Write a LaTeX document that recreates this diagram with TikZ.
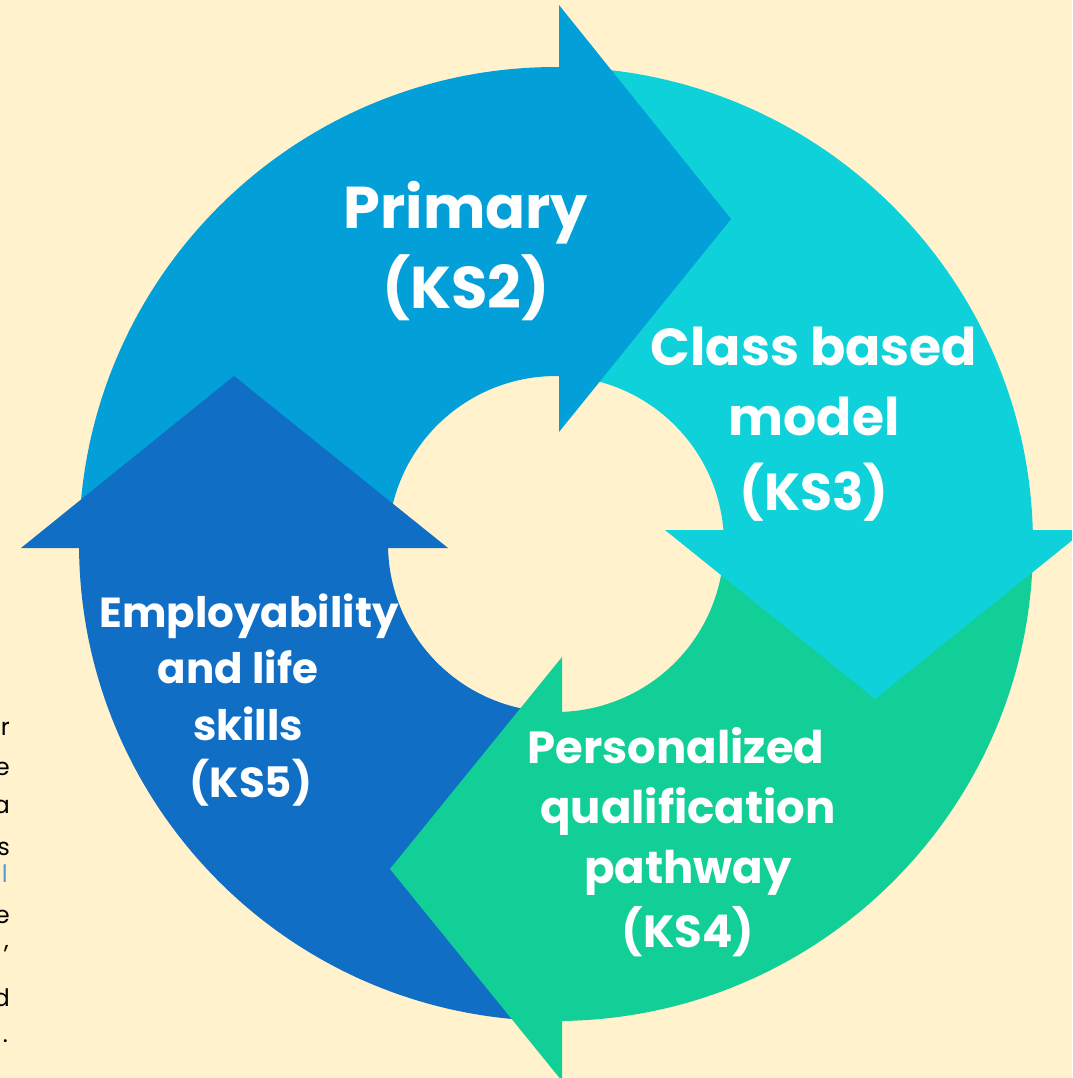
\documentclass[tikz,border=0pt]{standalone}
\usepackage{fontspec}
\setmainfont{Poppins}
\usetikzlibrary{calc}
\definecolor{bgcream}{RGB}{255,242,204}
\definecolor{cprim}{RGB}{3,159,216}
\definecolor{ckthree}{RGB}{14,209,218}
\definecolor{ckfour}{RGB}{18,207,152}
\definecolor{ckfive}{RGB}{16,111,196}
\definecolor{linkblue}{RGB}{91,155,213}
\begin{document}
\begin{tikzpicture}[x=1pt,y=-1pt,
  lblA/.style={text=white,inner sep=0pt,anchor=base,font=\fontsize{59}{66}\selectfont\bfseries},
  lblB/.style={text=white,inner sep=0pt,anchor=base,font=\fontsize{52}{60}\selectfont\bfseries},
  lblC/.style={text=white,inner sep=0pt,anchor=base,font=\fontsize{45}{52}\selectfont\bfseries},
  lblD/.style={text=white,inner sep=0pt,anchor=base,font=\fontsize{42}{50}\selectfont\bfseries},
  edgetxt/.style={text=black,inner sep=0pt,anchor=base east,font=\fontsize{24}{28}\selectfont}]
\useasboundingbox (0,0) rectangle (1072,1078);
\clip (0,0) rectangle (1072,1078);
\fill[bgcream] (0,0) rectangle (1072,1078);
\coordinate (C) at (556,544);
% ring segments
\fill[cprim] ($(C)+(181.52:477)$) arc[start angle=181.52,end angle=271.36,radius=477]
  -- ($(C)+(272.02:168)$) arc[start angle=272.02,end angle=180.64,radius=168] -- cycle;
\fill[ckthree] ($(C)+(272.36:477)$) arc[start angle=272.36,end angle=359.32,radius=477]
  -- ($(C)+(356.22:168)$) arc[start angle=356.22,end angle=273.02,radius=168] -- cycle;
\fill[ckfour] ($(C)+(0.32:477)$) arc[start angle=0.32,end angle=90.28,radius=477]
  -- ($(C)+(88.95:168)$) arc[start angle=88.95,end angle=-2.78,radius=168] -- cycle;
\fill[ckfive] ($(C)+(91.28:477)$) arc[start angle=91.28,end angle=180.52,radius=477]
  -- ($(C)+(179.64:168)$) arc[start angle=179.64,end angle=89.95,radius=168] -- cycle;
% arrowheads
\fill[cprim] (559,5) -- (731,219) -- (559,432) -- cycle;
\fill[ckthree] (665,530) -- (1085,530) -- (875,699) -- cycle;
\fill[ckfour] (562,657) -- (562,1081) -- (390,869) -- cycle;
\fill[ckfive] (21,548) -- (234,376) -- (448,548) -- cycle;
% labels
\node[lblA] (p1) at (466,228) {Primary};
\node[lblA] (p2) at (466,308) {(KS2)};
\node[lblB] (c1) at (814,365) {Class based};
\node[lblB] (c2) at (814,435) {model};
\node[lblB] (c3) at (814,510) {(KS3)};
\node[lblC] (q1) at (676,763) {Personalized};
\node[lblC] (q2) at (688,823) {qualification};
\node[lblC] (q3) at (688,883) {pathway};
\node[lblC] (q4) at (688,947) {(KS4)};
\node[lblD] (e1) at (249,627) {Employability};
\node[lblD] (e2) at (238,683) {and life};
\node[lblD] (e3) at (248,740) {skills};
\node[lblD] (e4) at (251,797) {(KS5)};
% cut-off text at left edge
\node[edgetxt] (f1) at (10,735) {r};
\node[edgetxt] (f2) at (10,775) {e};
\node[edgetxt] (f3) at (10,813) {a};
\node[edgetxt] (f4) at (10,855) {s};
\node[edgetxt,text=linkblue] (f5) at (8,882) {l};
\node[edgetxt] (f6) at (10,923) {e};
\node[edgetxt] (f7) at (9,948) {,};
\node[edgetxt] (f8) at (10,1006) {d};
\node[edgetxt] (f9) at (8,1042) {.};
\end{tikzpicture}
\end{document}
